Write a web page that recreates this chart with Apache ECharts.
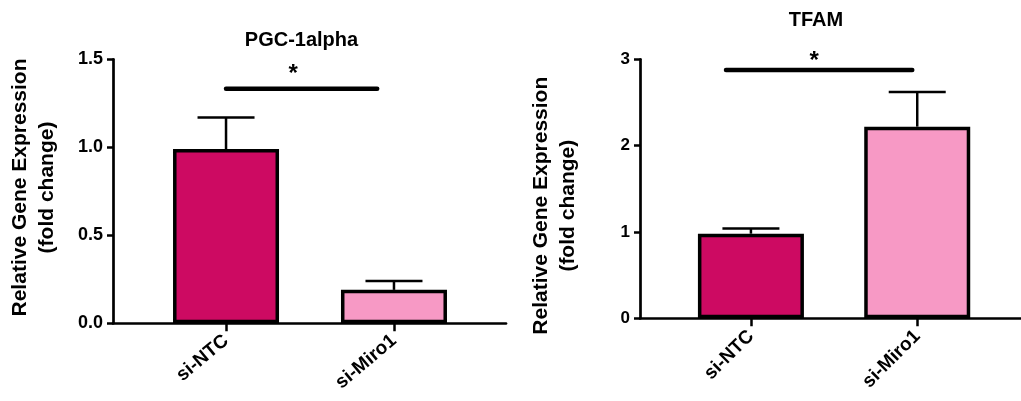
<!DOCTYPE html>
<html><head><meta charset="utf-8">
<script src="https://cdn.jsdelivr.net/npm/echarts@6/dist/echarts.min.js"></script>
<style>html,body{margin:0;padding:0;background:#fff}#c{width:1021px;height:401px}</style>
</head><body><div id="c"></div>
<script>
// ---- data ----
const categories = ['si-NTC', 'si-Miro1'];
const pgcMeans = [0.99, 0.19];
const pgcErrors = [0.18, 0.05];
const tfamMeans = [0.98, 2.22];
const tfamErrors = [0.06, 0.40];
const pgcTicks = ['0.0', '0.5', '1.0', '1.5'];
const tfamTicks = ['0', '1', '2', '3'];
const pgcSig = [0, 0.90, 1.333];      // from category pos, to category pos, height
const tfamSig = [-0.15, 0.97, 2.877];
const pgcStar = [0.40, 1.44];
const tfamStar = [0.38, 3.03];
const barColors = ['#CD0A62', '#F799C5'];
const titles = ['PGC-1alpha', 'TFAM'];
const yTitle = 'Relative Gene Expression\n(fold change)';

const FF = '"Liberation Sans", Arial, sans-serif';
const chart = echarts.init(document.getElementById('c'), null, {renderer: 'canvas'});

function xAxisCfg(grid, min, max, rot, fs, margin) {
  return {
    gridIndex: grid, type: 'value', min: min, max: max,
    axisLine: {show: true, onZero: false, lineStyle: {color: '#000', width: 2.7}},
    axisTick: {show: true, length: 8, customValues: [0, 1], lineStyle: {color: '#000', width: 2.5}},
    axisLabel: {customValues: [0, 1], formatter: v => categories[Math.round(v)], rotate: rot, margin: margin,
      fontSize: fs, fontWeight: 'bold', color: '#000', fontFamily: FF},
    splitLine: {show: false}
  };
}
function yAxisCfg(grid, max, interval, ticks, fs) {
  return {
    gridIndex: grid, type: 'value', min: 0, max: max, interval: interval,
    axisLine: {show: true, onZero: false, lineStyle: {color: '#000', width: 2.7}},
    axisTick: {show: true, length: 6, lineStyle: {color: '#000', width: 2.5}},
    axisLabel: {formatter: v => ticks[Math.round(v / interval)], margin: 10,
      fontSize: fs, fontWeight: 'bold', color: '#000', fontFamily: FF},
    splitLine: {show: false}
  };
}
function barSeries(idx, means) {
  return {
    type: 'bar', xAxisIndex: idx, yAxisIndex: idx, barWidth: 106, z: 3,
    itemStyle: {borderColor: '#000', borderWidth: 3.5},
    data: means.map((v, i) => ({value: [i, v], itemStyle: {color: barColors[i]}}))
  };
}
function errRender(params, api) {
  const x = api.value(0), m = api.value(1), e = api.value(2);
  const p0 = api.coord([x, m]), p1 = api.coord([x, m + e]);
  const hw = 28.5;
  return {type: 'group', children: [
    {type: 'line', shape: {x1: p0[0], y1: p0[1], x2: p1[0], y2: p1[1]}, style: {stroke: '#000', lineWidth: 2.5}},
    {type: 'line', shape: {x1: p1[0] - hw, y1: p1[1], x2: p1[0] + hw, y2: p1[1]}, style: {stroke: '#000', lineWidth: 2.5}}
  ]};
}
function errSeries(idx, means, errs) {
  return {type: 'custom', xAxisIndex: idx, yAxisIndex: idx, z: 2, renderItem: errRender,
    encode: {x: 0, y: 1},
    data: means.map((v, i) => [i, v, errs[i]])};
}
function sigRender(params, api) {
  const a = api.coord([api.value(0), api.value(2)]);
  const b = api.coord([api.value(1), api.value(2)]);
  return {type: 'line', shape: {x1: a[0], y1: a[1], x2: b[0], y2: b[1]},
    style: {stroke: '#000', lineWidth: 4.5, lineCap: 'round'}};
}
function starRender(params, api) {
  const p = api.coord([api.value(0), api.value(1)]);
  return {type: 'text', x: p[0], y: p[1] + 5,
    style: {text: '*', font: 'bold 24px ' + FF, fill: '#000', align: 'center', verticalAlign: 'middle'}};
}
function sigSeries(idx, sig) {
  return {type: 'custom', xAxisIndex: idx, yAxisIndex: idx, z: 4, renderItem: sigRender,
    encode: {x: [0, 1], y: 2}, data: [sig]};
}
function starSeries(idx, star) {
  return {type: 'custom', xAxisIndex: idx, yAxisIndex: idx, z: 4, renderItem: starRender,
    encode: {x: 0, y: 1}, data: [star]};
}

chart.setOption({
  animation: false,
  backgroundColor: '#fff',
  title: [
    {text: titles[0], left: 296.5, top: 25, textAlign: 'center',
      textStyle: {fontSize: 20, fontWeight: 'bold', color: '#000', fontFamily: FF}},
    {text: titles[1], left: 811, top: 5, textAlign: 'center',
      textStyle: {fontSize: 20, fontWeight: 'bold', color: '#000', fontFamily: FF}}
  ],
  grid: [
    {left: 113, top: 59.3, width: 393, height: 264},
    {left: 640, top: 59.3, width: 381, height: 259}
  ],
  xAxis: [xAxisCfg(0, -0.673, 1.667, 40, 19, 15), xAxisCfg(1, -0.667, 1.624, 45, 19, 15)],
  yAxis: [yAxisCfg(0, 1.5, 0.5, pgcTicks, 18), yAxisCfg(1, 3, 1, tfamTicks, 17)],
  graphic: [
    {type: 'text', x: 34, y: 187.5, rotation: Math.PI / 2,
      style: {text: yTitle, font: 'bold 21px ' + FF, align: 'center', verticalAlign: 'middle', lineHeight: 27, fill: '#000'}},
    {type: 'text', x: 555, y: 205.7, rotation: Math.PI / 2,
      style: {text: yTitle, font: 'bold 21px ' + FF, align: 'center', verticalAlign: 'middle', lineHeight: 27, fill: '#000'}}
  ],
  series: [
    barSeries(0, pgcMeans), errSeries(0, pgcMeans, pgcErrors), sigSeries(0, pgcSig), starSeries(0, pgcStar),
    barSeries(1, tfamMeans), errSeries(1, tfamMeans, tfamErrors), sigSeries(1, tfamSig), starSeries(1, tfamStar)
  ]
});
</script></body></html>
